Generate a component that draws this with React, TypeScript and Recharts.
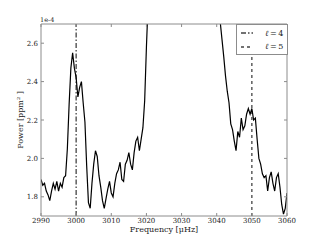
import { LineChart, Line, XAxis, YAxis, ReferenceLine, Legend, Label } from "recharts";

// frequency grid, muHz
const FREQ = [
  2990, 2990.5, 2991, 2991.5, 2992, 2992.5, 2993, 2993.5, 2994, 2994.5,
  2995, 2995.5, 2996, 2996.5, 2997, 2997.5, 2998, 2998.5, 2999, 2999.5,
  3000, 3000.5, 3001, 3001.5, 3002, 3002.5, 3003, 3003.5, 3004, 3004.5,
  3005, 3005.5, 3006, 3006.5, 3007, 3007.5, 3008, 3008.5, 3009, 3009.5,
  3010, 3010.5, 3011, 3011.5, 3012, 3012.5, 3013, 3013.5, 3014, 3014.5,
  3015, 3015.5, 3016, 3016.5, 3017, 3017.5, 3018, 3018.5, 3019, 3019.5,
  3020, 3020.5, 3021, 3021.5, 3022, 3022.5, 3023, 3023.5, 3024, 3024.5,
  3025, 3025.5, 3026, 3026.5, 3027, 3027.5, 3028, 3028.5, 3029, 3029.5,
  3030, 3030.5, 3031, 3031.5, 3032, 3032.5, 3033, 3033.5, 3034, 3034.5,
  3035, 3035.5, 3036, 3036.5, 3037, 3037.5, 3038, 3038.5, 3039, 3039.5,
  3040, 3040.5, 3041, 3041.5, 3042, 3042.5, 3043, 3043.5, 3044, 3044.5,
  3045, 3045.5, 3046, 3046.5, 3047, 3047.5, 3048, 3048.5, 3049, 3049.5,
  3050, 3050.5, 3051, 3051.5, 3052, 3052.5, 3053, 3053.5, 3054, 3054.5,
  3055, 3055.5, 3056, 3056.5, 3057, 3057.5, 3058, 3058.5, 3059, 3059.5,
  3060,
];

// power, units of 1e-4 ppm^2 (the middle peak runs off the top)
const POWER = [
  1.89, 1.86, 1.87, 1.83, 1.81, 1.78, 1.83, 1.87, 1.84, 1.88,
  1.83, 1.87, 1.85, 1.9, 1.91, 2.05, 2.28, 2.47, 2.55, 2.47,
  2.42, 2.32, 2.37, 2.4, 2.29, 2.19, 1.96, 1.77, 1.74, 1.87,
  1.97, 2.04, 2.01, 1.91, 1.85, 1.78, 1.74, 1.79, 1.84, 1.88,
  1.82, 1.8, 1.87, 1.92, 1.94, 1.98, 1.89, 1.88, 1.97, 1.99,
  2.03, 1.97, 1.94, 2.03, 2.09, 2.11, 2.04, 2.1, 2.16, 2.3,
  2.58, 2.82, 3.1, 3.4, 3.7, 3.95, 4.2, 4.4, 4.65, 4.8,
  5.0, 5.1, 5.25, 5.3, 5.4, 5.45, 5.5, 5.55, 5.6, 5.6,
  5.55, 5.5, 5.45, 5.35, 5.2, 5.05, 4.9, 4.7, 4.5, 4.3,
  4.1, 3.9, 3.7, 3.55, 3.4, 3.25, 3.1, 3.0, 2.92, 2.85,
  2.8, 2.77, 2.71, 2.62, 2.53, 2.43, 2.35, 2.29, 2.18, 2.15,
  2.09, 2.04, 2.14, 2.11, 2.21, 2.15, 2.17, 2.23, 2.26, 2.23,
  2.26, 2.2, 2.21, 2.1, 2.0, 1.97, 1.92, 1.9, 1.91, 1.83,
  1.9, 1.93, 1.87, 1.83, 1.9, 1.92, 1.85, 1.76, 1.71, 1.74,
  1.82,
];

const X_TICKS = [2990, 3000, 3010, 3020, 3030, 3040, 3050, 3060];
const Y_TICKS = [1.8, 2.0, 2.2, 2.4, 2.6];

const MODE_L = ["4", "5"];
const MODE_FREQ = [3000, 3050];
const MODE_DASH = ["5 2 1.5 2", "3 3"];

const SERIF = "'DejaVu Serif', serif";
const FRAME = "#8c8c8c";
const INK = "#222";
const MODE_COLOR = "#444";

const data = FREQ.map((f, i) => ({ f, p: POWER[i] }));

const BottomTick = ({ x, y, payload }: any) => (
  <g>
    <line x1={x} y1={y} x2={x} y2={y - 3} stroke={FRAME} />
    <text x={x} y={y + 7} textAnchor="middle" fontSize={7} fill={INK} fontFamily={SERIF}>
      {payload.value}
    </text>
  </g>
);

const TopTick = ({ x, y }: any) => <line x1={x} y1={y} x2={x} y2={y + 3} stroke={FRAME} />;

const LeftTick = ({ x, y, payload }: any) => (
  <g>
    <line x1={x} y1={y} x2={x + 3} y2={y} stroke={FRAME} />
    <text x={x - 3} y={y + 2.5} textAnchor="end" fontSize={7} fill={INK} fontFamily={SERIF}>
      {Number(payload.value).toFixed(1)}
    </text>
  </g>
);

const RightTick = ({ x, y }: any) => <line x1={x - 3} y1={y} x2={x} y2={y} stroke={FRAME} />;

const LegendBox = () => (
  <div
    style={{
      position: "relative",
      boxSizing: "border-box",
      width: 52,
      height: 31,
      border: `1px solid ${FRAME}`,
      background: "#fff",
      fontFamily: SERIF,
      fontSize: 8,
      color: INK,
    }}
  >
    {MODE_L.map((l, i) => (
      <div key={l} style={{ position: "absolute", left: 4, top: 3 + i * 13.5, height: 10, display: "flex", alignItems: "center" }}>
        <svg width={12} height={4}>
          <line x1={0} y1={2} x2={12} y2={2} stroke={MODE_COLOR} strokeWidth={1.3} strokeDasharray={MODE_DASH[i]} />
        </svg>
        <span style={{ marginLeft: 12, whiteSpace: "nowrap" }}>
          <i>ℓ</i>
          {"\u2009=\u2009" + l}
        </span>
      </div>
    ))}
  </div>
);

export default function App() {
  return (
    <div style={{ position: "absolute", left: 0, top: 0, background: "#fff" }}>
      <LineChart width={320} height={240} data={data} margin={{ top: 0, right: 0, bottom: 0, left: 0 }}>
        <XAxis
          dataKey="f"
          type="number"
          domain={[2990, 3060]}
          ticks={X_TICKS}
          interval={0}
          allowDataOverflow
          height={24}
          stroke={FRAME}
          tickSize={0}
          tickMargin={0}
          tickLine={false}
          tick={(props: any) => <BottomTick {...props} />}
        >
          <Label
            content={({ viewBox }: any) => (
              <text x={viewBox.x + viewBox.width / 2} y={viewBox.y + 16} textAnchor="middle" fontSize={8} fill={INK} fontFamily={SERIF}>
                Frequency [μHz]
              </text>
            )}
          />
        </XAxis>
        <XAxis
          xAxisId="top"
          orientation="top"
          dataKey="f"
          type="number"
          domain={[2990, 3060]}
          ticks={X_TICKS}
          interval={0}
          allowDataOverflow
          height={24}
          stroke={FRAME}
          tickSize={0}
          tickMargin={0}
          tickLine={false}
          tick={(props: any) => <TopTick {...props} />}
        >
          <Label
            content={({ viewBox }: any) => (
              <text x={viewBox.x - 1} y={viewBox.y + viewBox.height - 2} fontSize={6.5} fill={INK} fontFamily={SERIF}>
                1e-4
              </text>
            )}
          />
        </XAxis>
        <YAxis
          type="number"
          domain={[1.7, 2.7]}
          ticks={Y_TICKS}
          interval={0}
          allowDataOverflow
          width={41}
          stroke={FRAME}
          tickSize={0}
          tickMargin={0}
          tickLine={false}
          tick={(props: any) => <LeftTick {...props} />}
        >
          <Label
            content={({ viewBox }: any) => (
              <text
                transform={`translate(${viewBox.x + 23}, ${viewBox.y + viewBox.height / 2}) rotate(-90)`}
                textAnchor="middle"
                fontSize={8}
                fill={INK}
                fontFamily={SERIF}
              >
                Power [ppm² ]
              </text>
            )}
          />
        </YAxis>
        <YAxis
          yAxisId="right"
          orientation="right"
          type="number"
          domain={[1.7, 2.7]}
          ticks={Y_TICKS}
          interval={0}
          allowDataOverflow
          width={33}
          stroke={FRAME}
          tickSize={0}
          tickMargin={0}
          tickLine={false}
          tick={(props: any) => <RightTick {...props} />}
        />
        {MODE_FREQ.map((f, i) => (
          <ReferenceLine key={f} x={f} stroke={MODE_COLOR} strokeWidth={1.3} strokeDasharray={MODE_DASH[i]} />
        ))}
        <Line type="linear" dataKey="p" stroke="#000" strokeWidth={1.2} dot={false} isAnimationActive={false} />
        <Legend
          layout="vertical"
          align="center"
          verticalAlign="middle"
          content={() => <LegendBox />}
          wrapperStyle={{ left: 236, top: 24, width: 52, height: 31 }}
        />
      </LineChart>
    </div>
  );
}
